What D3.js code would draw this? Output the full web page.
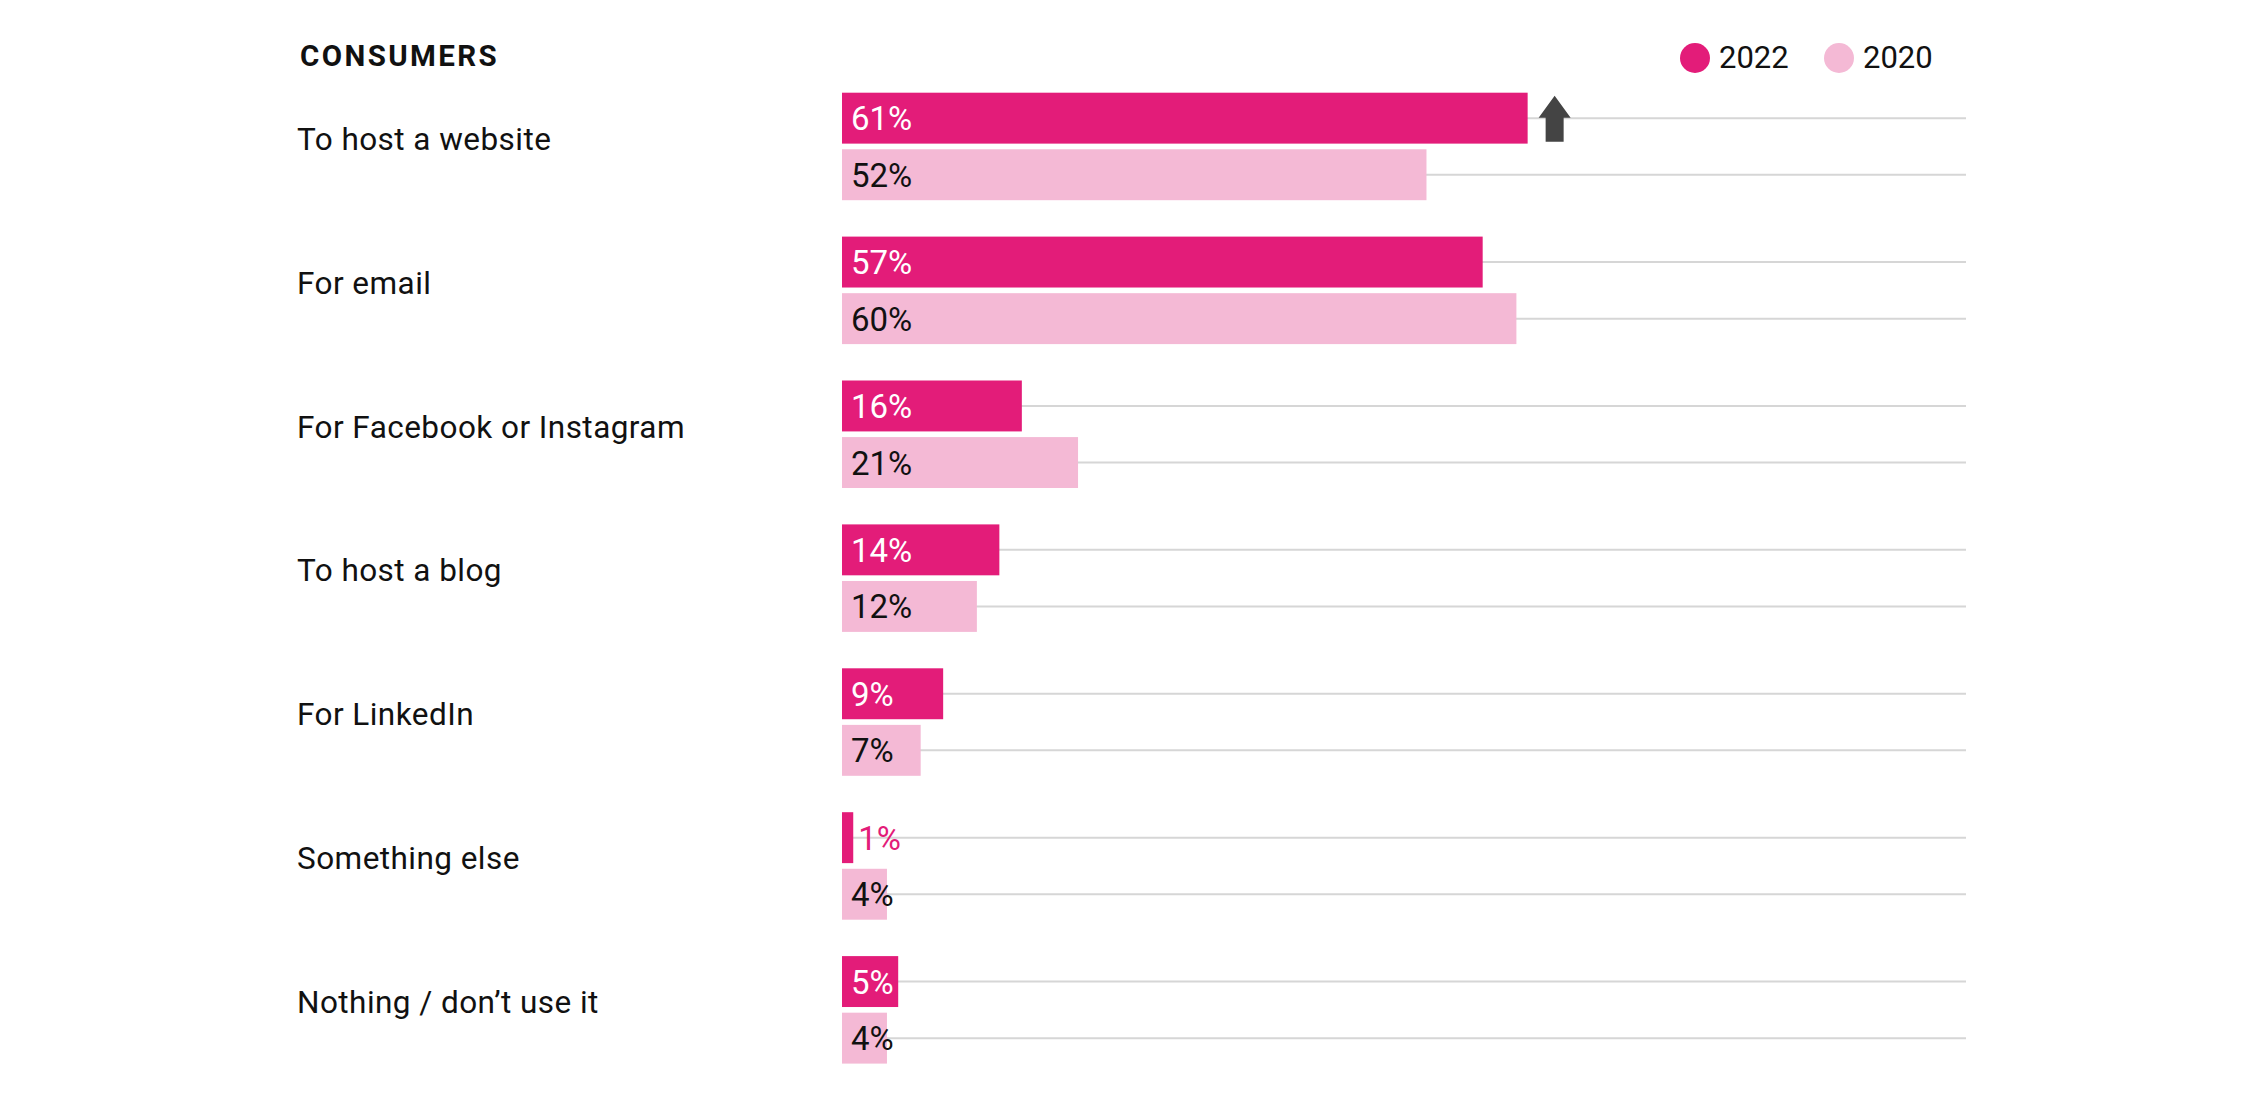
<!DOCTYPE html>
<html><head><meta charset="utf-8">
<script src="https://cdn.jsdelivr.net/npm/d3@7"></script>
<style>html,body{margin:0;padding:0;background:#fff;}svg{display:block;font-family:Roboto,"Noto Sans",sans-serif;}</style>
</head><body><svg id="c" width="2250" height="1104"></svg>
<script>
const categories = ["To host a website","For email","For Facebook or Instagram","To host a blog","For LinkedIn","Something else","Nothing / don\u2019t use it"];
const series = ["2022","2020"];
const values2022 = [61,57,16,14,9,1,5];
const values2020 = [52,60,21,12,7,4,4];
const colors = {"2022":"#E31C79","2020":"#F4B9D5"};
const title = "CONSUMERS";

const svg = d3.select("#c");
const x = d3.scaleLinear().domain([0,100]).range([842,1966]);
const y = d3.scaleBand().domain(categories).range([92.7,92.7+143.9*7]).paddingInner(0).paddingOuter(0);
const sub = d3.scaleBand().domain(series).range([0,107.5]).paddingInner(0.1);

const rows = categories.map((c,i)=>({cat:c, vals:[{s:"2022",v:values2022[i]},{s:"2020",v:values2020[i]}]}));

// grid lines
const g = svg.append("g");
rows.forEach(r=>{
  r.vals.forEach(d=>{
    const yc = y(r.cat)+sub(d.s)+sub.bandwidth()/2;
    g.append("line").attr("x1",x(0)).attr("x2",x(100)).attr("y1",yc).attr("y2",yc)
      .attr("stroke","#d6d6d6").attr("stroke-width",2);
  });
});

// bars
rows.forEach(r=>{
  const gg = svg.append("g");
  r.vals.forEach(d=>{
    const yt = y(r.cat)+sub(d.s);
    gg.append("rect").attr("x",x(0)).attr("y",yt).attr("width",x(d.v)-x(0)).attr("height",sub.bandwidth())
      .attr("fill",colors[d.s]);
    const inside = d.v>=3;
    gg.append("text")
      .attr("x", inside ? x(0)+9 : x(d.v)+5)
      .attr("y", yt+sub.bandwidth()/2+12)
      .attr("font-size",33)
      .attr("fill", inside ? (d.s==="2022"?"#fff":"#111") : colors["2022"])
      .text(d.v+"%");
  });
  svg.append("text").attr("x",297).attr("y",y(r.cat)+57).attr("font-size",31.5)
    .attr("letter-spacing",0.45).attr("fill","#111").text(r.cat);
});

// arrow next to first 2022 bar
const ax = x(values2022[0])+27, ay = y(categories[0]);
svg.append("path")
  .attr("d",`M${ax},${ay+3} L${ax+16},${ay+25} L${ax+9},${ay+25} L${ax+9},${ay+49} L${ax-9},${ay+49} L${ax-9},${ay+25} L${ax-16},${ay+25} Z`)
  .attr("fill","#444");

// title
svg.append("text").attr("x",300).attr("y",66).attr("font-size",29.5).attr("font-weight","bold")
  .attr("letter-spacing",2.4).attr("fill","#111").text(title);

// legend
const leg = svg.append("g");
const legX = [1695,1839];
series.forEach((s,i)=>{
  leg.append("circle").attr("cx",legX[i]).attr("cy",58).attr("r",15).attr("fill",colors[s]);
  leg.append("text").attr("x",legX[i]+24).attr("y",68).attr("font-size",31).attr("fill","#111").text(s);
});
</script></body></html>
